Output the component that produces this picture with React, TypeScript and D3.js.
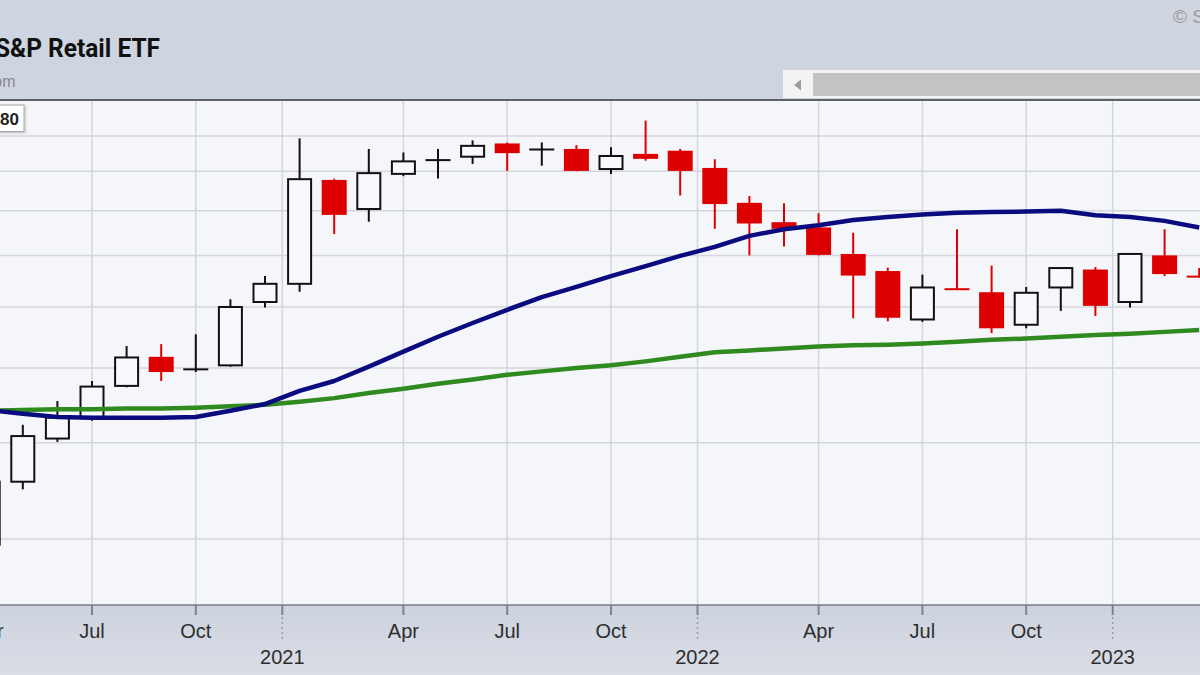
import React from "react";
import * as d3 from "d3";

const months = [
  "2020-04", "2020-05", "2020-06", "2020-07", "2020-08", "2020-09", "2020-10", "2020-11", "2020-12",
  "2021-01", "2021-02", "2021-03", "2021-04", "2021-05", "2021-06", "2021-07", "2021-08", "2021-09",
  "2021-10", "2021-11", "2021-12", "2022-01", "2022-02", "2022-03", "2022-04", "2022-05", "2022-06",
  "2022-07", "2022-08", "2022-09", "2022-10", "2022-11", "2022-12", "2023-01", "2023-02", "2023-03",
];

const open = [29.5, 35.6, 40.5, 43.2, 47.4, 51.7, 49.75, 50.4, 60.9, 64.3, 87.7, 80.4, 89.3, 93.0, 94.0, 97.8, 96.0, 96.2, 90.6, 94.8, 95.7, 90.9, 81.9, 77.3, 76.1, 70.3, 66.8, 57.8, 63.35, 62.7, 56.9, 63.6, 67.1, 60.9, 70.0, 65.8];
const high = [38.2, 42.2, 45.3, 48.1, 53.4, 53.7, 55.3, 61.4, 65.8, 99.3, 88.0, 96.2, 95.2, 96.2, 98.7, 98.1, 98.1, 97.3, 96.7, 104.7, 96.2, 93.3, 83.6, 81.8, 79.4, 74.9, 67.5, 66.1, 75.7, 67.9, 63.7, 67.5, 67.6, 70.4, 75.7, 67.4];
const low = [27.9, 34.8, 40.1, 42.7, 47.2, 48.1, 49.4, 50.2, 59.9, 62.8, 74.6, 77.4, 88.7, 88.1, 92.0, 90.1, 91.5, 90.0, 89.3, 92.9, 83.7, 75.8, 70.0, 71.9, 70.0, 58.0, 57.5, 57.4, 63.15, 55.5, 56.3, 59.3, 58.4, 59.9, 65.8, 65.5];
const close = [35.6, 40.8, 43.1, 47.3, 51.6, 49.4, 49.85, 60.0, 64.3, 87.9, 79.0, 89.5, 92.7, 93.1, 97.1, 95.0, 96.1, 90.1, 94.2, 93.4, 90.1, 81.6, 77.0, 75.8, 70.1, 65.9, 58.1, 63.6, 63.2, 56.3, 62.6, 67.4, 60.2, 70.3, 66.2, 65.6];

// moving averages (blue = shorter, green = longer)
const maBlue = [44.1, 43.6, 43.2, 43.1, 43.1, 43.1, 43.2, 44.0, 44.9, 46.7, 48.1, 50.2, 52.5, 54.9, 57.2, 59.5, 61.8, 63.7, 65.8, 67.8, 69.9, 71.8, 74.2, 75.7, 76.6, 77.8, 78.5, 79.1, 79.5, 79.7, 79.8, 80.0, 78.9, 78.5, 77.6, 76.1];
const maGreen = [44.0, 44.1, 44.2, 44.2, 44.3, 44.3, 44.4, 44.6, 44.8, 45.2, 45.7, 46.4, 47.0, 47.7, 48.3, 49.0, 49.5, 50.0, 50.4, 51.0, 51.7, 52.4, 52.7, 53.0, 53.3, 53.5, 53.6, 53.8, 54.1, 54.4, 54.6, 54.9, 55.2, 55.4, 55.7, 56.0];

const priceGrid = [30, 40, 50, 60, 70, 80, 90, 100];
const quarterTickMonths = ["2020-04", "2020-07", "2020-10", "2021-04", "2021-07", "2021-10", "2022-04", "2022-07", "2022-10"];
const quarterTickLabels = ["Apr", "Jul", "Oct", "Apr", "Jul", "Oct", "Apr", "Jul", "Oct"];
const yearTickMonths = ["2021-01", "2022-01", "2023-01"];
const yearTickLabels = ["2021", "2022", "2023"];

const W = 1200;
const H = 675;
const PLOT_TOP = 100;
const PLOT_BOTTOM = 605;
const RED = "#dd0000";
const AXIS_FONT = "'Liberation Sans', Arial, sans-serif";

export default function App() {
  const x = d3.scalePoint<string>().domain(months).range([-11.8, 1199.2]);
  const step = x.step();
  const y = d3.scaleLog().domain([30, 100]).range([539, 136]);
  const bodyW = 25;

  const line = d3
    .line<number>()
    .x((_, i) => x(months[i]) as number)
    .y((d) => y(d))
    .curve(d3.curveLinear);

  const yearX = (m: string) => (x(m) as number) - step / 2;
  const gridXs = [...quarterTickMonths.map((m) => x(m) as number), ...yearTickMonths.map(yearX)];

  return (
    <svg
      width={W}
      height={H}
      viewBox={`0 0 ${W} ${H}`}
      style={{ position: "absolute", left: 0, top: 0, display: "block" }}
    >
      <defs>
        <linearGradient id="bottomBg" x1="0" y1="0" x2="0" y2="1">
          <stop offset="0" stopColor="#cdd3de" />
          <stop offset="1" stopColor="#d9dde6" />
        </linearGradient>
        <clipPath id="plotClip">
          <rect x={0} y={PLOT_TOP} width={W} height={PLOT_BOTTOM - PLOT_TOP} />
        </clipPath>
        <filter id="shadow" x="-20%" y="-20%" width="160%" height="160%">
          <feDropShadow dx="1" dy="1" stdDeviation="1" floodColor="#000" floodOpacity="0.25" />
        </filter>
      </defs>

      {/* backgrounds */}
      <rect x={0} y={0} width={W} height={PLOT_TOP} fill="#cfd5e0" />
      <rect x={0} y={PLOT_BOTTOM} width={W} height={H - PLOT_BOTTOM} fill="url(#bottomBg)" />
      <rect x={0} y={PLOT_TOP} width={W} height={PLOT_BOTTOM - PLOT_TOP} fill="#f5f6fa" />

      {/* header texts */}
      <text
        x={-5}
        y={57}
        fontFamily="Roboto, 'Liberation Sans', Arial, sans-serif"
        fontWeight="bold"
        fontSize={25}
        fill="#111"
        textLength={165}
        lengthAdjust="spacingAndGlyphs"
      >
        S&amp;P Retail ETF
      </text>
      <text x={15.5} y={87} textAnchor="end" fontFamily={AXIS_FONT} fontSize={16} fill="#8a8a8a">
        om
      </text>
      <text x={1173} y={23} fontFamily={AXIS_FONT} fontSize={19} fill="#9a9a9a">
        © S
      </text>

      {/* scrollbar */}
      <rect x={783} y={70} width={420} height={28} fill="#f3f3f3" />
      <rect x={813} y={73} width={390} height={23} fill="#c3c3c3" />
      <path d="M794,85 L801,79.5 L801,90.5 Z" fill="#9b9b9b" />

      {/* grid */}
      <g clipPath="url(#plotClip)">
        {priceGrid.map((p) => (
          <line key={"h" + p} x1={0} x2={W} y1={y(p)} y2={y(p)} stroke="#d3d6dd" strokeWidth={1.5} />
        ))}
        {gridXs.map((gx, i) => (
          <line key={"v" + i} x1={gx} x2={gx} y1={PLOT_TOP} y2={PLOT_BOTTOM} stroke="#d3d6dd" strokeWidth={1.5} />
        ))}

        {/* candles */}
        {months.map((m, i) => {
          const cx = x(m) as number;
          const o = open[i];
          const c = close[i];
          const up = c >= o;
          const col = up ? "#111" : RED;
          const yTop = y(Math.max(o, c));
          const yBot = y(Math.min(o, c));
          const doji = yBot - yTop < 1.5;
          return (
            <g key={m}>
              <line x1={cx} x2={cx} y1={y(high[i])} y2={y(low[i])} stroke={col} strokeWidth={2} />
              {doji ? (
                <line
                  x1={cx - bodyW / 2}
                  x2={cx + bodyW / 2}
                  y1={(yTop + yBot) / 2}
                  y2={(yTop + yBot) / 2}
                  stroke={col}
                  strokeWidth={2}
                />
              ) : up ? (
                <rect
                  x={cx - bodyW / 2 + 1}
                  y={yTop}
                  width={bodyW - 2}
                  height={yBot - yTop}
                  fill="#f8f9fc"
                  stroke="#111"
                  strokeWidth={2}
                />
              ) : (
                <rect x={cx - bodyW / 2} y={yTop} width={bodyW} height={yBot - yTop} fill={RED} />
              )}
            </g>
          );
        })}

        {/* moving averages */}
        <path d={line(maGreen) || ""} fill="none" stroke="#2f8a1f" strokeWidth={4.5} strokeLinejoin="round" />
        <path d={line(maBlue) || ""} fill="none" stroke="#0b0b80" strokeWidth={4.5} strokeLinejoin="round" />
      </g>

      {/* price label box */}
      <g filter="url(#shadow)">
        <rect x={-10} y={105} width={34} height={26.5} fill="#ffffff" stroke="#a8a8a8" strokeWidth={1} />
      </g>
      <text x={19} y={125} textAnchor="end" fontFamily={AXIS_FONT} fontWeight="bold" fontSize={17} fill="#222">
        80
      </text>

      {/* plot borders */}
      <line x1={0} x2={W} y1={PLOT_TOP} y2={PLOT_TOP} stroke="#5f6166" strokeWidth={2} />
      <line x1={0} x2={W} y1={PLOT_BOTTOM} y2={PLOT_BOTTOM} stroke="#7a7d84" strokeWidth={1.5} />

      {/* x axis ticks and labels */}
      {quarterTickMonths.map((m, i) => {
        const tx = x(m) as number;
        return (
          <g key={"q" + m}>
            <line x1={tx} x2={tx} y1={PLOT_BOTTOM} y2={615} stroke="#80838a" strokeWidth={2} />
            <text
              x={tx}
              y={638}
              textAnchor="middle"
              fontFamily={AXIS_FONT}
              fontSize={20}
              fill="#2e2e2e"
            >
              {quarterTickLabels[i]}
            </text>
          </g>
        );
      })}
      {yearTickMonths.map((m, i) => {
        const tx = yearX(m);
        return (
          <g key={"y" + m}>
            <line x1={tx} x2={tx} y1={PLOT_BOTTOM} y2={615} stroke="#80838a" strokeWidth={2} />
            <line x1={tx} x2={tx} y1={617} y2={640} stroke="#9a9da4" strokeWidth={1.5} strokeDasharray="2,3" />
            <text x={tx} y={664} textAnchor="middle" fontFamily={AXIS_FONT} fontSize={20} fill="#2e2e2e">
              {yearTickLabels[i]}
            </text>
          </g>
        );
      })}
    </svg>
  );
}
